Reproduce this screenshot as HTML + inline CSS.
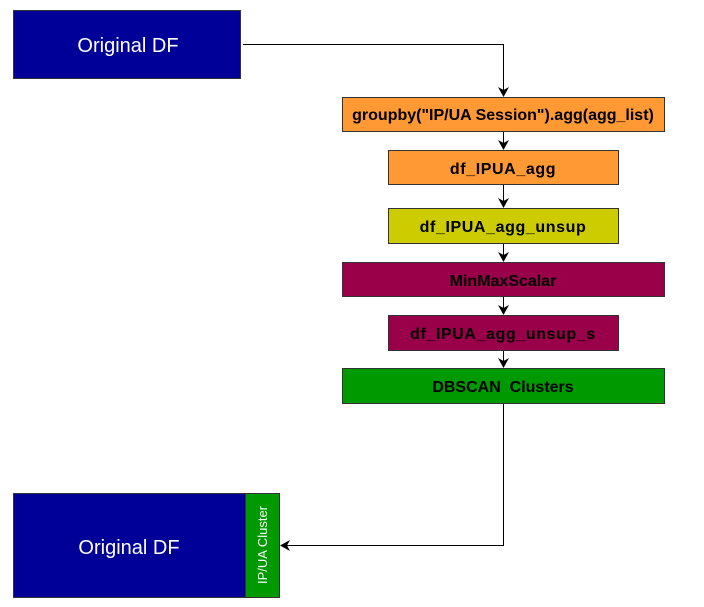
<!DOCTYPE html>
<html><head><meta charset="utf-8"><style>
html,body{margin:0;padding:0;background:#fff;width:704px;height:607px;overflow:hidden}
svg{display:block}
text{font-family:"Liberation Sans",Arial,sans-serif}
.b{font-weight:bold;font-size:16px;fill:#000}
.s{letter-spacing:0.6px}
</style></head><body>
<svg width="704" height="607" viewBox="0 0 704 607" xmlns="http://www.w3.org/2000/svg">
<defs><marker id="a" markerWidth="12" markerHeight="12" refX="9" refY="5.5" orient="auto" markerUnits="userSpaceOnUse"><path d="M0,0 L10,5.5 L0,11 L3,5.5 Z" fill="#000"/></marker></defs>
<g stroke="#333" stroke-width="1">
<rect x="13.5" y="10.5" width="227" height="68" fill="#000099"/>
<rect x="342.5" y="97.5" width="322" height="34" fill="#FF9933"/>
<rect x="388.5" y="150.5" width="230" height="34" fill="#FF9933"/>
<rect x="388.5" y="208.5" width="230" height="35" fill="#CCCC00"/>
<rect x="342.5" y="262.5" width="322" height="34" fill="#990049"/>
<rect x="388.5" y="315.5" width="230" height="35" fill="#990049"/>
<rect x="342.5" y="368.5" width="322" height="35" fill="#009900"/>
<rect x="13.5" y="493.5" width="232" height="104" fill="#000099"/>
<rect x="245.5" y="493.5" width="34" height="104" fill="#009900"/>
</g>
<g stroke="#000" stroke-width="1" fill="none">
<path d="M243,44.5 H503.5 V96" marker-end="url(#a)"/>
<path d="M503.5,132 V149" marker-end="url(#a)"/>
<path d="M503.5,185 V207" marker-end="url(#a)"/>
<path d="M503.5,244 V261" marker-end="url(#a)"/>
<path d="M503.5,297 V314" marker-end="url(#a)"/>
<path d="M503.5,351 V367" marker-end="url(#a)"/>
<path d="M503.5,404 V545.5 H281" marker-end="url(#a)"/>
</g>
<text x="128" y="52" text-anchor="middle" fill="#fff" font-size="20">Original DF</text>
<text x="129" y="554" text-anchor="middle" fill="#fff" font-size="20">Original DF</text>
<text transform="translate(267,545) rotate(-90)" text-anchor="middle" fill="#fff" font-size="13">IP/UA Cluster</text>
<text class="b" x="503" y="120" text-anchor="middle">groupby("IP/UA Session").agg(agg_list)</text>
<text class="b s" x="503" y="174" text-anchor="middle">df_IPUA_agg</text>
<text class="b s" x="503" y="232" text-anchor="middle">df_IPUA_agg_unsup</text>
<text class="b" x="503" y="286" text-anchor="middle">MinMaxScalar</text>
<text class="b s" x="503" y="339" text-anchor="middle">df_IPUA_agg_unsup_s</text>
<text class="b" x="503" y="392" text-anchor="middle" xml:space="preserve">DBSCAN  Clusters</text>
</svg>
</body></html>
